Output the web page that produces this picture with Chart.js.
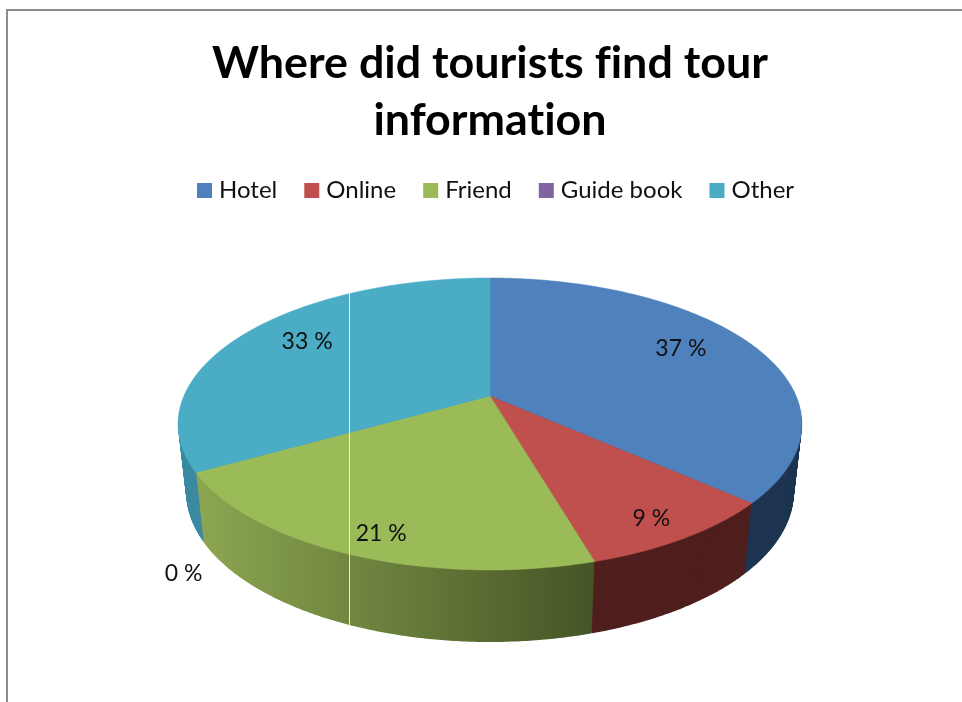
<!DOCTYPE html>
<html>
<head>
<meta charset="utf-8">
<style>
html,body{margin:0;padding:0;background:#fff;overflow:hidden}
#frame{position:absolute;left:6px;top:9px;right:-4px;bottom:-4px;border-top:2px solid #8c8c8c;border-left:2px solid #8c8c8c}
canvas{position:absolute;left:0;top:0}
</style>
<script src="https://cdn.jsdelivr.net/npm/chart.js@4"></script>
</head>
<body>
<div id="frame"></div>
<canvas id="c" width="962" height="702"></canvas>
<script>
const titleLines = ['Where did tourists find tour', 'information'];
const categories = ['Hotel', 'Online', 'Friend', 'Guide book', 'Other'];
const shares = [36.6, 8.9, 21.3, 0, 33.2];
const topColors = ['#4f81bd', '#c0504d', '#9bbb59', '#8064a2', '#4bacc6'];
const rimLeftColors = ['#1d3550', '#4f1f1e', '#8ba550', '#4d3c61', '#3c8aa1'];
const rimRightColors = ['#1d3550', '#4f1f1e', '#465526', '#4d3c61', '#4295ac'];
const labelRadius = [0.75, 0.87, 0.87, 1.05, 0.75];
const labelDx = [-7, -4, 10, 4, 2];
const labelDy = [-7, 2, 4, 97, -5];

const total = shares.reduce((a, b) => a + b, 0);
const FONT = 'Lato, Carlito, Calibri, sans-serif';
const CX = 490, PERSP = -0.192, WIDEN = 0.981;
const topE = {rx: 312, ry: 146, cy: 424};
const botE = {rx: 304, ry: 150, cy: 492};

function project(angle, r, t) {
  const th = angle + Math.PI / 2;
  const u = r * Math.sin(th), v = -r * Math.cos(th);
  const rx = topE.rx + (botE.rx - topE.rx) * t;
  const ry = topE.ry + (botE.ry - topE.ry) * t;
  const cy = topE.cy + (botE.cy - topE.cy) * t;
  const d = 1 + PERSP * v;
  return {x: CX + rx * WIDEN * u / d, y: cy + ry * (v + PERSP) / d};
}
function sectorPath(ctx, arc, t) {
  ctx.beginPath();
  const a = project(0, 0, t);
  ctx.moveTo(a.x, a.y);
  const n = Math.max(2, Math.ceil((arc.endAngle - arc.startAngle) * 120));
  for (let i = 0; i <= n; i++) {
    const p = project(arc.startAngle + (arc.endAngle - arc.startAngle) * i / n, 1, t);
    ctx.lineTo(p.x, p.y);
  }
  ctx.closePath();
}
const pie3d = {
  id: 'pie3d',
  beforeDraw(chart) {
    chart.ctx.letterSpacing = '0.01px';
    const lg = chart.legend;
    lg.draw = function () {
      const ctx = chart.ctx;
      ctx.save();
      ctx.font = '24px ' + FONT;
      ctx.textBaseline = 'middle';
      ctx.textAlign = 'left';
      let x = 197;
      lg.legendItems.forEach((item) => {
        ctx.fillStyle = item.fillStyle;
        ctx.fillRect(x, 183, 15, 15);
        ctx.fillStyle = '#111';
        ctx.fillText(item.text, x + 22, 190);
        x += 22 + ctx.measureText(item.text).width + 27;
      });
      ctx.restore();
    };
  },
  beforeDatasetsDraw(chart) {
    const ctx = chart.ctx;
    const arcs = chart.getDatasetMeta(0).data;
    ctx.save();
    const grads = arcs.map((arc, i) => {
      const g = ctx.createLinearGradient(project(arc.endAngle, 1, 1).x, 0, project(arc.startAngle, 1, 1).x, 0);
      g.addColorStop(0, rimLeftColors[i]);
      g.addColorStop(1, rimRightColors[i]);
      return g;
    });
    for (let k = 72; k >= 1; k--) {
      arcs.forEach((arc, i) => {
        if (shares[i] === 0) return;
        ctx.fillStyle = i === 2 ? grads[i] : (i === 4 ? rimLeftColors[i] : rimRightColors[i]);
        sectorPath(ctx, arc, k / 72);
        ctx.fill();
      });
    }
    arcs.forEach((arc, i) => {
      if (shares[i] === 0) return;
      ctx.fillStyle = topColors[i];
      ctx.strokeStyle = topColors[i];
      ctx.lineWidth = 0.5;
      sectorPath(ctx, arc, 0);
      ctx.fill();
      ctx.stroke();
    });
    ctx.strokeStyle = 'rgba(255,255,255,0.85)';
    ctx.lineWidth = 1;
    ctx.beginPath();
    ctx.moveTo(349.5, 293);
    ctx.lineTo(349.5, 628);
    ctx.stroke();
    ctx.fillStyle = '#111';
    ctx.font = '23px ' + FONT;
    ctx.textAlign = 'center';
    ctx.textBaseline = 'middle';
    arcs.forEach((arc, i) => {
      const p = project((arc.startAngle + arc.endAngle) / 2, labelRadius[i], 0);
      ctx.fillText(Math.round(shares[i] / total * 100) + ' %', p.x + labelDx[i], p.y + labelDy[i]);
    });
    ctx.restore();
    return false;
  }
};
new Chart(document.getElementById('c'), {
  type: 'pie',
  data: {
    labels: categories,
    datasets: [{data: shares, backgroundColor: topColors, borderWidth: 0}]
  },
  plugins: [pie3d],
  options: {
    responsive: false,
    animation: false,
    layout: {padding: {left: 18, top: 35, right: 0, bottom: 0}},
    plugins: {
      tooltip: {enabled: false},
      title: {
        display: true,
        text: titleLines,
        color: '#000',
        font: {family: FONT, size: 44.8, weight: 'bold', lineHeight: 1.28},
        padding: {top: 0, bottom: 12}
      },
      legend: {
        display: true,
        position: 'top',
        labels: {
          boxWidth: 15,
          boxHeight: 15,
          padding: 22,
          color: '#111',
          font: {family: FONT, size: 24}
        }
      }
    }
  }
});
</script>
</body>
</html>
